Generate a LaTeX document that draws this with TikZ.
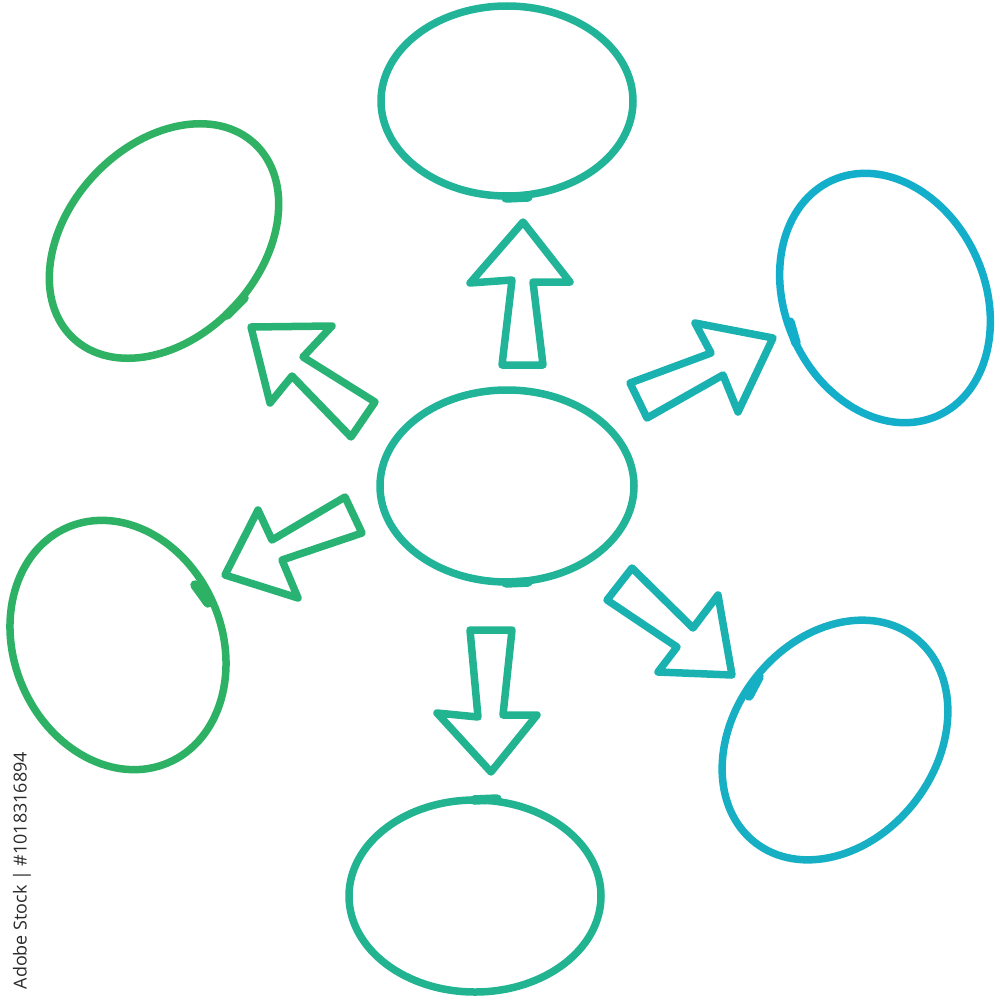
\documentclass[tikz,border=0pt]{standalone}
\usepackage{fontspec}
\setsansfont{Open Sans}
\definecolor{cGreenA}{HTML}{2FB264}
\definecolor{cGreenB}{HTML}{2DB165}
\definecolor{cArrL}{HTML}{28B375}
\definecolor{cTeal}{HTML}{21B498}
\definecolor{cTealB}{HTML}{22B391}
\definecolor{cArrR}{HTML}{1AB2B0}
\definecolor{cCyanA}{HTML}{13AFCA}
\definecolor{cCyanB}{HTML}{17AFC3}
\definecolor{cMark}{HTML}{2A2A2A}
\begin{document}
\begin{tikzpicture}[x=0.01cm,y=-0.01cm,
  outline/.style={line width=0.075cm,line cap=round,line join=round},
  tick/.style={line width=0.095cm,line cap=round}]
\useasboundingbox (0,0) rectangle (1000,1000);
% ellipses
\draw[outline,cTeal] (507,486) ellipse [x radius=127, y radius=96];
\draw[outline,cTeal] (507,101) ellipse [x radius=126, y radius=95];
\draw[outline,cTealB] (475,896) ellipse [x radius=126, y radius=96];
\draw[outline,cGreenA,rotate around={47:(164,241)}] (164,241) ellipse [x radius=133, y radius=96];
\draw[outline,cGreenB,rotate around={-67:(118,645)}] (118,645) ellipse [x radius=128, y radius=104];
\draw[outline,cCyanA,rotate around={-66:(885,298)}] (885,298) ellipse [x radius=129, y radius=100];
\draw[outline,cCyanB,rotate around={52:(835,740)}] (835,740) ellipse [x radius=130, y radius=101];
% overlap ticks
\draw[tick,cTeal] (506,583) -- (528,582);
\draw[tick,cTeal] (506,198) -- (528,197);
\draw[tick,cTealB] (474,800) -- (497,799);
\draw[tick,cGreenA] (227,315) -- (244,298);
\draw[tick,cGreenB] (195,585) -- (208,603);
\draw[tick,cCyanA] (790,322) -- (796,343);
\draw[tick,cCyanB] (749,696) -- (759,677);
% arrows
\draw[outline,cTeal] (523,222) -- (570,282) -- (533,282) -- (543,365) -- (502,365) -- (512,280) -- (470,283) -- cycle;
\draw[outline,cTealB] (470,630) -- (512,630) -- (503,715) -- (537,715) -- (491,772) -- (437,713) -- (478,717) -- cycle;
\draw[outline,cArrL] (251,327) -- (332,326) -- (303,357) -- (375,402) -- (351,437) -- (292,376) -- (270,403) -- cycle;
\draw[outline,cArrL] (345,497) -- (362,533) -- (282,560) -- (298,598) -- (225,575) -- (258,510) -- (272,540) -- cycle;
\draw[outline,cArrR] (630,383) -- (711,353) -- (695,323) -- (773,338) -- (738,412) -- (723,375) -- (647,418) -- cycle;
\draw[outline,cArrR] (632,568) -- (693,628) -- (718,595) -- (732,675) -- (658,672) -- (677,647) -- (607,600) -- cycle;
% watermark
\node[rotate=90,anchor=west,inner sep=0pt,text=cMark,font=\sffamily\fontsize{5.1}{6}\selectfont] (wm) at (22,990) {Adobe Stock | \#1018316894};
\end{tikzpicture}
\end{document}
